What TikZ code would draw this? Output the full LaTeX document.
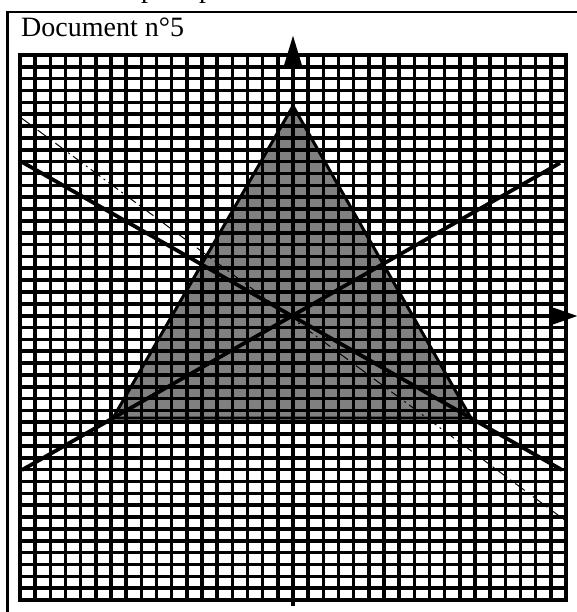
\documentclass[tikz,border=0pt]{standalone}
\usepackage{fontspec}
\setmainfont{Liberation Serif}
\usetikzlibrary{arrows.meta}
\begin{document}
\begin{tikzpicture}[x=1pt,y=-1pt,
  frameline/.style={line width=2.5pt},
  gridline/.style={line width=3.6pt, line cap=rect},
  shade/.style={fill=black!50},
  triedge/.style={line width=3pt, line join=miter},
  altline/.style={line width=3.8pt},
  dashline/.style={line width=1pt, dash pattern=on 12pt off 4pt on 2pt off 4pt},
  axisline/.style={line width=4.5pt},
  bigfont/.style={font=\fontsize{28}{32}\selectfont, inner sep=0pt, anchor=base west}]
\useasboundingbox (0,0) rectangle (577,612);
\clip (0,0) rectangle (577,612);
% cut text fragments at top
\node[bigfont] (p1) at (141,-2) {p};
\node[bigfont] (p2) at (199,-2) {p};
% frame
\draw[frameline] (7.5,12) rectangle (640,660);
\node[bigfont] (title) at (21,37) {Document n°5};
% key points
\coordinate (O) at (293,316);
\coordinate (A) at (293,106);
\coordinate (B) at (113,418);
\coordinate (C) at (471,418);
% filled triangle
\fill[shade] (A) -- (B) -- (C) -- cycle;
% grid
\foreach \i in {0,...,36}
  \draw[gridline] ({20+\i*15.1667},55) -- ({20+\i*15.1667},600);
\foreach \j in {0,...,46}
  \draw[gridline] (20,{55+\j*11.848}) -- (566,{55+\j*11.848});
% triangle outline
\draw[triedge] (A) -- (B) -- (C) -- cycle;
% altitudes through origin
\coordinate (L1a) at (22,162);
\coordinate (L1b) at (562,470);
\coordinate (L2a) at (22,470);
\coordinate (L2b) at (560,163);
\draw[altline] (L1a) -- (L1b);
\draw[altline] (L2a) -- (L2b);
% dash-dot line
\coordinate (Da) at (20,117);
\coordinate (Db) at (566,521);
\draw[dashline] (Da) -- (Db);
% axes
\coordinate (Ybot) at (293,606);
\coordinate (Ytop) at (293,35);
\coordinate (Xl) at (18,316);
\coordinate (Xr) at (578,316);
\draw[axisline, -{Triangle[length=31pt,width=17pt]}] (Ybot) -- (Ytop);
\draw[axisline, -{Triangle[length=27pt,width=17pt]}] (Xl) -- (Xr);
\end{tikzpicture}
\end{document}
